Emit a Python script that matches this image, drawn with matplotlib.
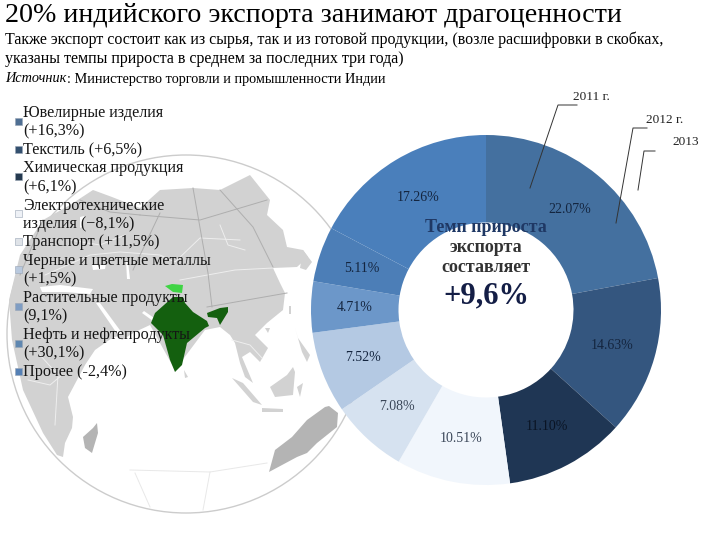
import matplotlib
matplotlib.use("Agg")
import matplotlib.pyplot as plt
from matplotlib.patches import Circle, Polygon, Rectangle

plt.rcParams['font.family'] = ['Liberation Serif', 'DejaVu Serif']

# данные диаграммы
shares = [22.07, 14.63, 11.10, 10.51, 7.08, 7.52, 4.71, 5.11, 17.26]
colors = ['#44709f', '#34567f', '#1f3654', '#f1f6fc', '#d6e2f0',
          '#b4c9e3', '#6c97c9', '#4c7eb7', '#4a7fbb']
legend_labels = ['Ювелирные изделия\n(+16,3%)', 'Текстиль (+6,5%)',
                 'Химическая продукция\n(+6,1%)',
                 'Электротехнические\nизделия (−8,1%)', 'Транспорт (+11,5%)',
                 'Черные и цветные металлы\n(+1,5%)',
                 'Растительные продукты\n(9,1%)',
                 'Нефть и нефтепродукты\n(+30,1%)', 'Прочее (-2,4%)']
legend_colors = ['#4f6f93', '#34506f', '#263a50', '#eef1f6', '#dfe3e8',
                 '#b9c9de', '#7f9dc3', '#5f87b0', '#5580b5']
title = '20% индийского экспорта занимают драгоценности'
subtitle = ['Также экспорт состоит как из сырья, так и из готовой продукции, (возле расшифровки в скобках,',
            'указаны темпы прироста в среднем за последних три года)']
years = ['2011 г.', '2012 г.', '2013']

# контуры карты (фон), в пикселях картинки
land = [(9, 300), (20, 255), (43, 220), (70, 205), (93, 190), (112, 197), (140, 208),
        (160, 190), (193, 188), (220, 190), (250, 175), (270, 200), (267, 215),
        (283, 230), (287, 247), (303, 250), (308, 257), (297, 267), (273, 268),
        (280, 283), (285, 293), (283, 310), (267, 323), (255, 335), (268, 348),
        (260, 362), (250, 352), (242, 357), (253, 383), (245, 377), (240, 363),
        (235, 343), (230, 335), (220, 327), (205, 330), (175, 370), (150, 325),
        (135, 332), (122, 340), (118, 336), (112, 338), (95, 350), (85, 365),
        (68, 397), (73, 417), (72, 428), (65, 443), (63, 457), (57, 455),
        (43, 433), (23, 390), (12, 340)]
water = [[(96, 303), (100, 303), (122, 333), (118, 335)],
         [(40, 287), (60, 285), (93, 289), (90, 294), (65, 292), (42, 292)],
         [(92, 265), (106, 264), (105, 269), (93, 270)],
         [(126, 261), (128, 262), (130, 279), (127, 279)],
         [(144, 311), (157, 320), (153, 321), (142, 313)],
         [(80, 217), (84, 216), (83, 226), (80, 228)]]
madagascar = [(83, 437), (93, 428), (97, 423), (98, 433), (92, 453), (85, 448)]
australia = [(269, 472), (275, 450), (292, 437), (307, 420), (325, 407), (329, 406),
             (338, 413), (337, 427), (317, 443), (307, 453), (297, 457)]
islands = [[(184, 370), (188, 377), (185, 378)],
           [(232, 378), (243, 383), (262, 405), (253, 402)],
           [(270, 387), (287, 375), (293, 367), (295, 372), (293, 395), (275, 397)],
           [(262, 408), (283, 409), (283, 412), (262, 412)],
           [(297, 387), (303, 383), (300, 397)],
           [(295, 328), (298, 338), (310, 355), (307, 362), (302, 352)],
           [(289, 306), (291, 306), (291, 314), (289, 314)],
           [(265, 328), (270, 328), (268, 333)],
           [(303, 250), (312, 262), (306, 270), (300, 268)]]
india = [(155, 313), (173, 297), (183, 297), (185, 303), (193, 312), (207, 321),
         (209, 326), (205, 328), (187, 343), (182, 365), (175, 372), (170, 360),
         (163, 335), (151, 323)]
india_ne = [(207, 313), (220, 308), (228, 307), (228, 312), (220, 325), (217, 318),
            (208, 317)]
kashmir = [(165, 286), (172, 284), (183, 285), (182, 293), (173, 292)]
grid_land = [[(140, 215), (200, 220), (267, 200)],
             [(193, 188), (208, 273), (212, 307)],
             [(220, 190), (253, 227), (273, 267)],
             [(207, 307), (287, 293)],
             [(160, 213), (133, 270)],
             [(80, 200), (110, 212), (140, 215)],
             [(43, 220), (20, 275)]]
grid_sea = [[(130, 470), (210, 472), (267, 463)],
            [(135, 473), (150, 507)],
            [(210, 472), (203, 510)]]
borders = [[(45, 275), (90, 255), (120, 252), (160, 255), (175, 262), (200, 238), (240, 240)],
           [(180, 280), (235, 270), (273, 268)],
           [(220, 225), (228, 245), (245, 250)],
           [(28, 380), (50, 385), (62, 375)],
           [(40, 355), (58, 375), (55, 425)],
           [(232, 340), (250, 345), (262, 358)],
           [(70, 240), (100, 245), (125, 235)]]

fig = plt.figure(figsize=(7.2, 5.4), dpi=100)

# глобус
bg = fig.add_axes([0, 0, 1, 1])
bg.set_xlim(0, 720)
bg.set_ylim(540, 0)
bg.axis('off')
bg.add_patch(Circle((186, 334), 179, facecolor='white', edgecolor='#cccccc', lw=1))
bg.add_patch(Polygon(land, facecolor='#d2d2d2', edgecolor='none'))
for poly in water:
    bg.add_patch(Polygon(poly, facecolor='white', edgecolor='none'))
for poly in islands:
    bg.add_patch(Polygon(poly, facecolor='#d2d2d2', edgecolor='none'))
for poly in [madagascar, australia]:
    bg.add_patch(Polygon(poly, facecolor='#b4b4b4', edgecolor='none'))
for line in borders:
    bg.plot(*zip(*line), color='#eeeeee', lw=0.7)
for line in grid_land:
    bg.plot(*zip(*line), color='#aeaeae', lw=0.7)
for line in grid_sea:
    bg.plot(*zip(*line), color='#e8e8e8', lw=0.7)
bg.add_patch(Polygon(india, facecolor='#14600f', edgecolor='none'))
bg.add_patch(Polygon(india_ne, facecolor='#14600f', edgecolor='none'))
bg.add_patch(Polygon(kashmir, facecolor='#3fd444', edgecolor='none'))

# кольцевая диаграмма
ax = fig.add_axes([311 / 720, 1 - 485 / 540, 350 / 720, 350 / 540])
wedges, texts, autotexts = ax.pie(shares, colors=colors, startangle=90, counterclock=False,
                                  radius=1.0, autopct='%.2f%%', pctdistance=0.75,
                                  wedgeprops=dict(width=0.5, edgecolor='none'))
for t in autotexts:
    t.set_fontsize(10)
    t.set_color('#14253f')
autotexts[2].set_color('#0a1424')
autotexts[3].set_color('#3a4658')
autotexts[4].set_color('#3a4658')
ax.set_xlim(-1, 1)
ax.set_ylim(-1, 1)

# верхний слой: подписи
top = fig.add_axes([0, 0, 1, 1])
top.set_xlim(0, 720)
top.set_ylim(540, 0)
top.axis('off')
top.patch.set_alpha(0)

top.text(5, 16, title, fontsize=20.2, va='center', color='black')
top.text(5, 40, subtitle[0], fontsize=11.55, va='center', color='black')
top.text(5, 59, subtitle[1], fontsize=11.55, va='center', color='black')
src = top.text(5, 79, 'Источник', fontsize=10.3, va='center', style='italic', color='black')
fig.canvas.draw()
src_end = src.get_window_extent().x1
top.text(src_end + 0.5, 79, ': Министерство торговли и промышленности Индии', fontsize=10.3,
         va='center', color='black')

# легенда
y = 113
for label, c in zip(legend_labels, legend_colors):
    lines = label.split('\n')
    mid = y + (len(lines) - 1) * 18.5 / 2
    top.add_patch(Rectangle((15, mid - 4.5), 7, 7, facecolor=c, edgecolor='#99a5b5', lw=0.4))
    for line in lines:
        top.text(23, y, line, fontsize=11.6, va='center', color='#151515')
        y += 18.5

# выноски лет
top.plot([530, 558, 577], [188, 105, 105], color='#333333', lw=0.7)
top.plot([616, 633, 647], [223, 128, 128], color='#333333', lw=0.7)
top.plot([638, 644, 655], [190, 151, 151], color='#333333', lw=0.7)
top.text(573, 97, years[0], fontsize=9.5, va='center', color='#222222')
top.text(646, 120, years[1], fontsize=9.5, va='center', color='#222222')
top.text(672, 142, years[2], fontsize=9.5, va='center', color='#222222')

# подпись в центре
top.text(486, 227, 'Темп прироста', fontsize=13, fontweight='bold', ha='center',
         va='center', color='#1f3864')
top.text(486, 247, 'экспорта', fontsize=13, fontweight='bold', ha='center', va='center',
         color='#333333')
top.text(486, 268, 'составляет', fontsize=13, fontweight='bold', ha='center', va='center',
         color='#333333')
top.text(486, 296, '+9,6%', fontsize=22, fontweight='bold', ha='center', va='center',
         color='#141e46')

fig.savefig('out.png', dpi=100)
